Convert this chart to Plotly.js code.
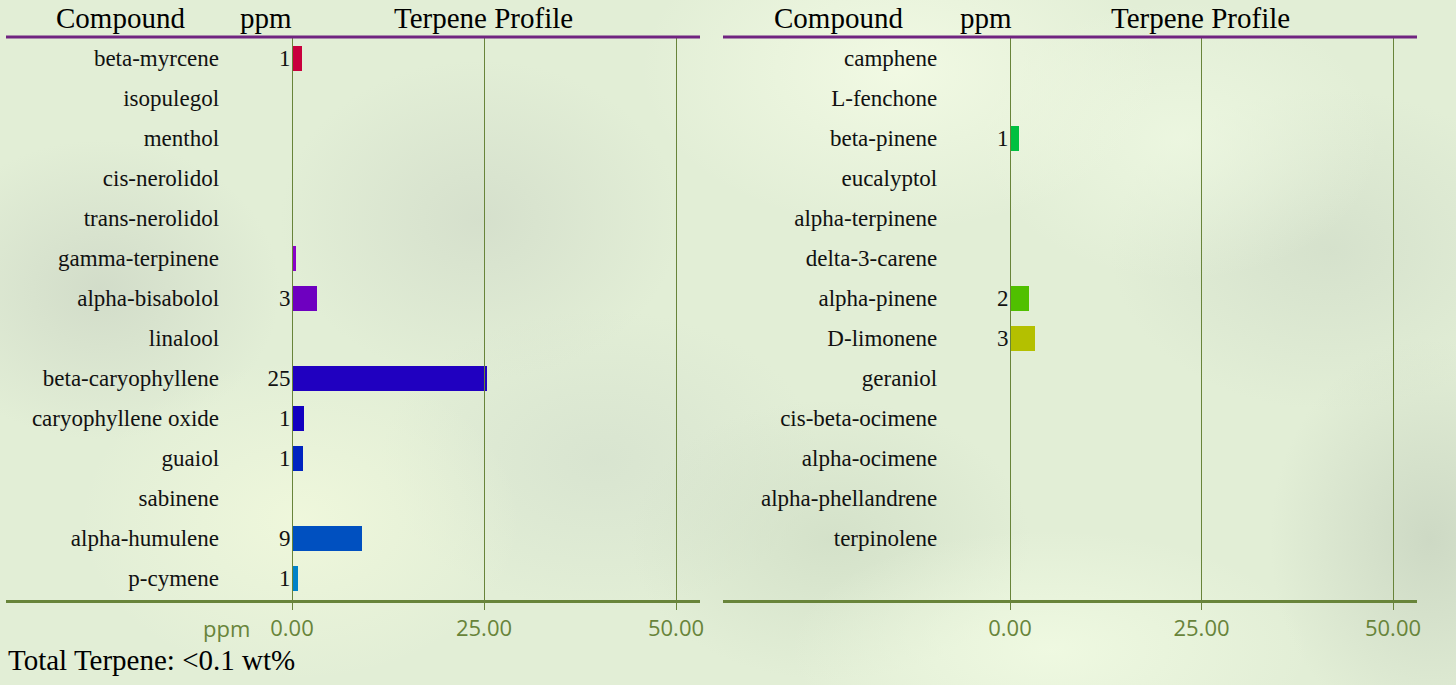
<!DOCTYPE html>
<html>
<head>
<meta charset="utf-8">
<script src="https://cdn.plot.ly/plotly-3.0.1.min.js"></script>
<style>
html,body{margin:0;padding:0;width:1456px;height:685px;overflow:hidden;}
body{
background:
 radial-gradient(ellipse 260px 160px at 900px 70px, rgba(242,250,228,0.95), rgba(242,250,228,0) 100%),
 radial-gradient(ellipse 200px 140px at 1180px 140px, rgba(238,248,226,0.8), rgba(238,248,226,0) 100%),
 radial-gradient(ellipse 220px 160px at 300px 520px, rgba(240,248,220,0.9), rgba(240,248,220,0) 100%),
 radial-gradient(ellipse 260px 120px at 1050px 650px, rgba(240,250,226,0.9), rgba(240,250,226,0) 100%),
 radial-gradient(ellipse 180px 150px at 100px 290px, rgba(206,216,198,0.8), rgba(206,216,198,0) 100%),
 radial-gradient(ellipse 200px 160px at 480px 220px, rgba(208,218,200,0.7), rgba(208,218,200,0) 100%),
 radial-gradient(ellipse 200px 140px at 830px 540px, rgba(206,220,196,0.7), rgba(206,220,196,0) 100%),
 radial-gradient(ellipse 160px 200px at 1430px 540px, rgba(200,212,192,0.8), rgba(200,212,192,0) 100%),
 radial-gradient(ellipse 220px 160px at 1330px 250px, rgba(208,220,200,0.7), rgba(208,220,200,0) 100%),
 radial-gradient(ellipse 220px 150px at 600px 460px, rgba(210,222,204,0.6), rgba(210,222,204,0) 100%),
 #e2eed6;
}
#chart{width:1456px;height:685px;}
</style>
</head>
<body>
<div id="chart"></div>
<script>
// ---- data ----
const leftCompounds = ["beta-myrcene","isopulegol","menthol","cis-nerolidol","trans-nerolidol","gamma-terpinene","alpha-bisabolol","linalool","beta-caryophyllene","caryophyllene oxide","guaiol","sabinene","alpha-humulene","p-cymene"];
const leftValues = [1.3,0,0,0,0,0.55,3.25,0,25.4,1.5,1.4,0,9.1,0.8];
const leftLabels = ["1","","","","","","3","","25","1","1","","9","1"];
const leftColors = ["#c8003c","#8c00c8","#8c00c8","#8c00c8","#8c00c8","#8a00c8","#6e00c0","#4a00c0","#2000c0","#1200c0","#0024c0","#0040c0","#0050c0","#0082c8"];

const rightCompounds = ["camphene","L-fenchone","beta-pinene","eucalyptol","alpha-terpinene","delta-3-carene","alpha-pinene","D-limonene","geraniol","cis-beta-ocimene","alpha-ocimene","alpha-phellandrene","terpinolene"];
const rightValues = [0,0,1.2,0,0,0,2.45,3.25,0,0,0,0,0];
const rightLabels = ["","","1","","","","2","3","","","","",""];
const rightColors = ["#00c040","#00c040","#00c040","#30c020","#40c010","#48c000","#50c000","#b4c000","#c0c000","#c0b000","#c0a000","#c09000","#c08000"];

const tickValues = [0,25,50];
const tickLabels = ["0.00","25.00","50.00"];
const headers = ["Compound","ppm","Terpene Profile"];
const totalText = "Total Terpene: <0.1 wt%";
const axisUnit = "ppm";

// ---- helpers ----
const idx = a => a.map((_, i) => i);
const serif = "Liberation Serif, Times New Roman, serif";
const green = "rgb(104,132,58)";
const W = 1456, H = 685;
const px = v => v / W;
const py = v => 1 - v / H;

function panelTraces(names, vals, labels, colors, xa, ya, ta, nameX, valX) {
  const ys = idx(names);
  return [
    {type:"bar", orientation:"h", x:vals, y:ys, xaxis:xa, yaxis:ya,
     marker:{color:colors}, width:0.625, hoverinfo:"skip", showlegend:false},
    {type:"scatter", mode:"text", x:names.map(()=>nameX), y:ys, text:names,
     textposition:"middle left", xaxis:xa, yaxis:ta, hoverinfo:"skip", showlegend:false,
     textfont:{family:serif, size:23, color:"#111"}},
    {type:"scatter", mode:"text", x:labels.map(()=>valX), y:ys, text:labels,
     textposition:"middle left", xaxis:xa, yaxis:ta, hoverinfo:"skip", showlegend:false,
     textfont:{family:serif, size:23, color:"#111"}}
  ];
}

const traces = [].concat(
  panelTraces(leftCompounds, leftValues, leftLabels, leftColors, "x", "y", "y3", -9.5, -0.2),
  panelTraces(rightCompounds, rightValues, rightLabels, rightColors, "x2", "y2", "y4", -9.5, -0.2)
);

const yr = [13.55, -0.525];
function xaxisDef(dom, rng, anchor) {
  return {domain:dom, range:rng, anchor:anchor, tickvals:tickValues, ticktext:tickLabels,
    showgrid:true, gridcolor:green, gridwidth:1, zeroline:false,
    showline:true, linecolor:green, linewidth:2.5,
    ticks:"outside", ticklen:7, tickcolor:green, tickwidth:1,
    tickfont:{family:"Open Sans, sans-serif", size:22, color:green},
    fixedrange:true};
}
function yaxisDef(anchor, shift) {
  return {domain:[py(600 + shift), py(37 + shift)], range:yr, anchor:anchor, showgrid:false, zeroline:false,
    showticklabels:false, showline:false, ticks:"", fixedrange:true};
}

const hdrFont = {family:serif, size:29, color:"#000"};
const annotations = [];
[[120,266,483.5],[838.5,986,1200.5]].forEach(xs => {
  xs.forEach((x,i) => annotations.push({xref:"paper", yref:"paper", x:px(x), y:py(18),
    xanchor:"center", yanchor:"middle", text:headers[i], showarrow:false, font:hdrFont}));
});
annotations.push({xref:"paper", yref:"paper", x:px(226), y:py(628), xanchor:"center", yanchor:"middle",
  text:axisUnit, showarrow:false, font:{family:"Open Sans, sans-serif", size:22, color:green}});
annotations.push({xref:"paper", yref:"paper", x:px(6), y:py(660), xanchor:"left", yanchor:"middle",
  text:totalText.replace("<","&lt;"), showarrow:false, font:{family:serif, size:29, color:"#000"}});

const shapes = [
  {type:"line", xref:"paper", yref:"paper", x0:px(6), x1:px(700), y0:py(37), y1:py(37), line:{color:"rgb(112,36,128)", width:3}},
  {type:"line", xref:"paper", yref:"paper", x0:px(723), x1:px(1417), y0:py(37), y1:py(37), line:{color:"rgb(112,36,128)", width:3}}
];

const layout = {
  width:W, height:H, margin:{l:0,r:0,t:0,b:0},
  paper_bgcolor:"rgba(0,0,0,0)", plot_bgcolor:"rgba(0,0,0,0)",
  xaxis: xaxisDef([px(6), px(700)], [-286/7.68, 408/7.68], "y"),
  yaxis: yaxisDef("x", 0),
  xaxis2: xaxisDef([px(723), px(1417)], [-287/7.66, 407/7.66], "y2"),
  yaxis2: yaxisDef("x2", 0),
  yaxis3: yaxisDef("x", 2),
  yaxis4: yaxisDef("x2", 2),
  bargap:0, annotations:annotations, shapes:shapes, showlegend:false
};

Plotly.newPlot("chart", traces, layout, {displayModeBar:false, staticPlot:true});
</script>
</body>
</html>
